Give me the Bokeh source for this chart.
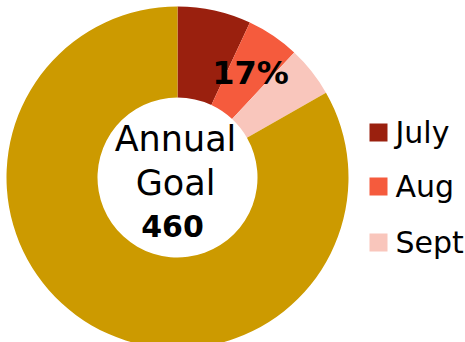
import numpy as np
import pandas as pd
from bokeh.plotting import figure
from bokeh.models import Range1d, ColumnDataSource
from bokeh.core.properties import value
from bokeh.embed import file_html
from bokeh.resources import INLINE

# Data
categories = ["July", "Aug", "Sept", "Remaining"]
amounts = [32, 23, 22, 383]
colors = ["#9A200E", "#F55B3D", "#F9C6BC", "#CC9A00"]
legend_labels = ["July", "Aug", "Sept"]
annual_goal = 460
pct_label = "17%"

W, H = 465, 342
df = pd.DataFrame({"cat": categories, "amt": amounts, "color": colors})
df["frac"] = df["amt"] / df["amt"].sum()
df["cum_end"] = df["frac"].cumsum()
df["cum_start"] = df["cum_end"] - df["frac"]
df["start"] = np.pi / 2 - df["cum_end"] * 2 * np.pi
df["end"] = np.pi / 2 - df["cum_start"] * 2 * np.pi

p = figure(width=W, height=H, output_backend="svg", toolbar_location=None,
           x_range=Range1d(0, W), y_range=Range1d(0, H), min_border=0)
p.axis.visible = False
p.grid.visible = False
p.outline_line_color = None
p.background_fill_color = "white"

cx, cy = 177, H - 177
p.annular_wedge(x=cx, y=cy, inner_radius=80, outer_radius=171,
                start_angle="start", end_angle="end", color="color",
                line_color=None, source=ColumnDataSource(df))

# percentage label
p.text(x=[250], y=[H - 72], text=[pct_label], text_font=value("DejaVu Sans"),
       text_font_size="32px", text_font_style="bold", text_align="center",
       text_baseline="middle", text_color="black")

# center texts
p.text(x=[175, 175], y=[H - 138, H - 182], text=["Annual", "Goal"],
       text_font=value("DejaVu Sans"), text_font_size="35px",
       text_align="center", text_baseline="middle", text_color="black")
p.text(x=[172], y=[H - 225], text=[str(annual_goal)],
       text_font=value("DejaVu Sans"), text_font_size="30px", text_font_style="bold",
       text_align="center", text_baseline="middle", text_color="black")

# legend
ly = [H - 132, H - 186, H - 242]
p.rect(x=[378] * 3, y=ly, width=18, height=18, color=colors[:3], line_color=None)
p.text(x=[395] * 3, y=ly, text=legend_labels, text_font=value("DejaVu Sans"),
       text_font_size="30px", text_align="left", text_baseline="middle",
       text_color="black")

open("out.html", "w").write(file_html(p, INLINE))
